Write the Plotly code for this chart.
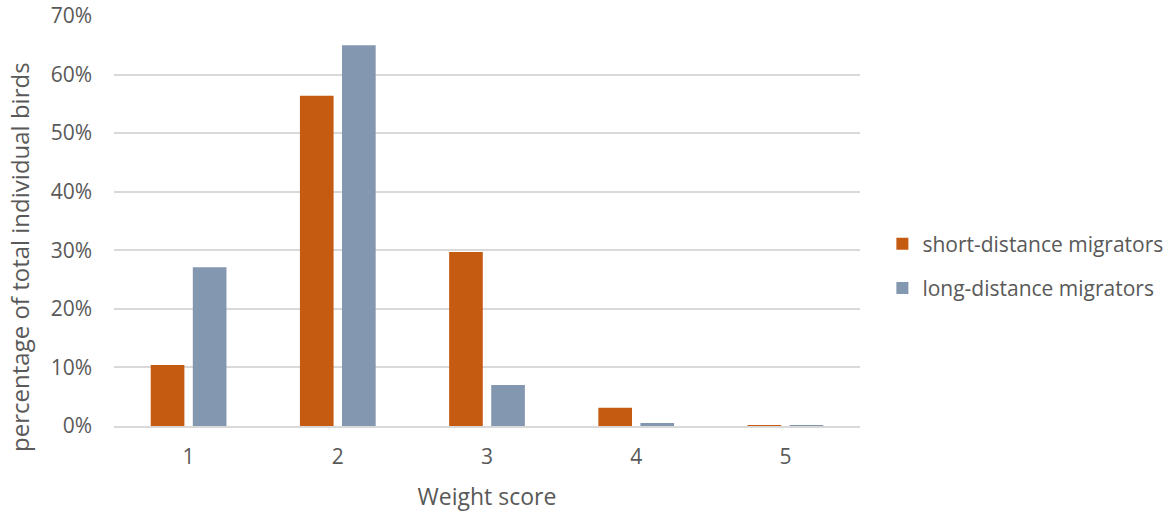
import plotly.graph_objects as go

categories = ["1", "2", "3", "4", "5"]
short_distance = [0.104, 0.564, 0.297, 0.031, 0.001]
long_distance = [0.271, 0.650, 0.070, 0.005, 0.001]
y_ticks = [0, 0.1, 0.2, 0.3, 0.4, 0.5, 0.6, 0.7]

font_family = "Open Sans, Liberation Sans, sans-serif"
text_color = "#595959"

fig = go.Figure()
fig.add_trace(go.Bar(x=categories, y=short_distance, name="short-distance migrators",
                     marker=dict(color="#C55A11", line=dict(width=0)), legendgroup="a"))
fig.add_trace(go.Bar(x=categories, y=long_distance, name="long-distance migrators",
                     marker=dict(color="#8497B0", line=dict(width=0)), legendgroup="b"))

fig.update_layout(
    width=1167, height=513,
    margin=dict(l=114, r=307, t=16, b=87, autoexpand=False),
    paper_bgcolor="white", plot_bgcolor="white",
    barmode="group", bargap=0.436, bargroupgap=0.2,
    font=dict(family=font_family, color=text_color, size=20),
    legend=dict(x=1.03, y=0.39, xanchor="left", yanchor="middle",
                font=dict(size=21, color=text_color), tracegroupgap=14,
                itemwidth=30, traceorder="grouped"),
    xaxis=dict(title=dict(text="Weight score", font=dict(size=23), standoff=20),
               automargin=False,
               showgrid=False, showline=True, linecolor="#D9D9D9", linewidth=2,
               ticks="", tickfont=dict(size=21), ticklabelstandoff=11),
    yaxis=dict(automargin=False,
               range=[0, 0.7], tickvals=y_ticks, tickformat=".0%",
               showgrid=True, gridcolor="#D9D9D9", gridwidth=1.5,
               zeroline=False, showline=False, ticks="", tickfont=dict(size=21),
               ticklabelstandoff=21),
    annotations=[dict(text="percentage of total individual birds", textangle=-90,
                      xref="paper", yref="paper", x=-0.126, y=0.41,
                      xanchor="center", yanchor="middle", showarrow=False,
                      font=dict(size=24, color=text_color))],
)

fig.write_html("out.html", config={"displayModeBar": False},
               post_script="document.body.style.margin='0';document.body.style.overflow='hidden';")
